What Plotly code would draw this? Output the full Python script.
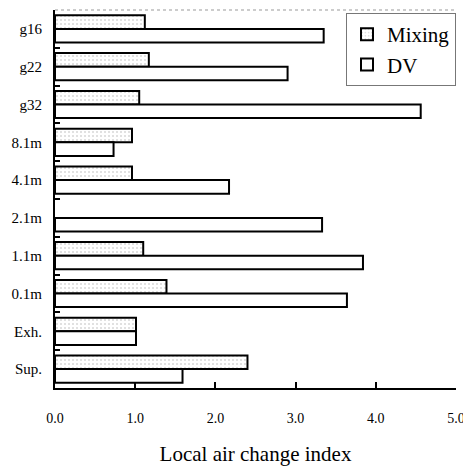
import plotly.graph_objects as go

categories = ["g16", "g22", "g32", "8.1m", "4.1m", "2.1m", "1.1m", "0.1m", "Exh.", "Sup."]
mixing = [1.12, 1.17, 1.05, 0.96, 0.96, None, 1.10, 1.39, 1.01, 2.40]
dv = [3.35, 2.90, 4.56, 0.73, 2.17, 3.33, 3.84, 3.64, 1.01, 1.59]
x_ticks = [0, 1, 2, 3, 4, 5]
x_tick_labels = ["0.0", "1.0", "2.0", "3.0", "4.0", "5.0"]

font = "Liberation Serif"

fig = go.Figure()
fig.add_trace(go.Bar(
    y=categories, x=mixing, orientation="h", name="Mixing",
    marker=dict(color="white", line=dict(color="black", width=2),
                pattern=dict(shape=".", fgcolor="#b0b0b0", size=4, solidity=0.2)),
))
fig.add_trace(go.Bar(
    y=categories, x=dv, orientation="h", name="DV",
    marker=dict(color="white", line=dict(color="black", width=2)),
))

# page body has an 8px margin, so the figure is sized/offset to compensate
fig.update_layout(
    width=463, height=459,
    margin=dict(l=47, r=15, t=2, b=79, autoexpand=False),
    paper_bgcolor="white", plot_bgcolor="white",
    barmode="group", bargap=0.28, bargroupgap=0.0,
    font=dict(family=font, color="black", size=15),
    legend=dict(
        x=1.0, y=0.992, xanchor="right", yanchor="top",
        bordercolor="#777", borderwidth=1, bgcolor="white",
        font=dict(family=font, size=21, color="black"),
        tracegroupgap=0,
    ),
    showlegend=True,
)
fig.update_xaxes(
    range=[0, 5], tickvals=x_ticks, ticktext=x_tick_labels,
    showline=True, linecolor="black", linewidth=2,
    ticks="inside", ticklen=6, tickwidth=2, tickcolor="black",
    showgrid=False, zeroline=False, automargin=False,
    tickfont=dict(family=font, size=14), ticklabelstandoff=16,
    title=dict(text="Local air change index", font=dict(family=font, size=21), standoff=22),
)
fig.update_yaxes(
    autorange="reversed", categoryorder="array", categoryarray=categories,
    showline=True, linecolor="black", linewidth=2,
    ticks="inside", tickson="boundaries", ticklen=5, tickwidth=2, tickcolor="black",
    showgrid=False, zeroline=False, automargin=False,
    tickfont=dict(family=font, size=15), ticklabelstandoff=8,
)
# faint top border
fig.add_shape(type="line", xref="paper", yref="paper", x0=0, x1=1, y0=1, y1=1,
              line=dict(color="#999", width=1, dash="dot"))

fig.write_html("out.html")
